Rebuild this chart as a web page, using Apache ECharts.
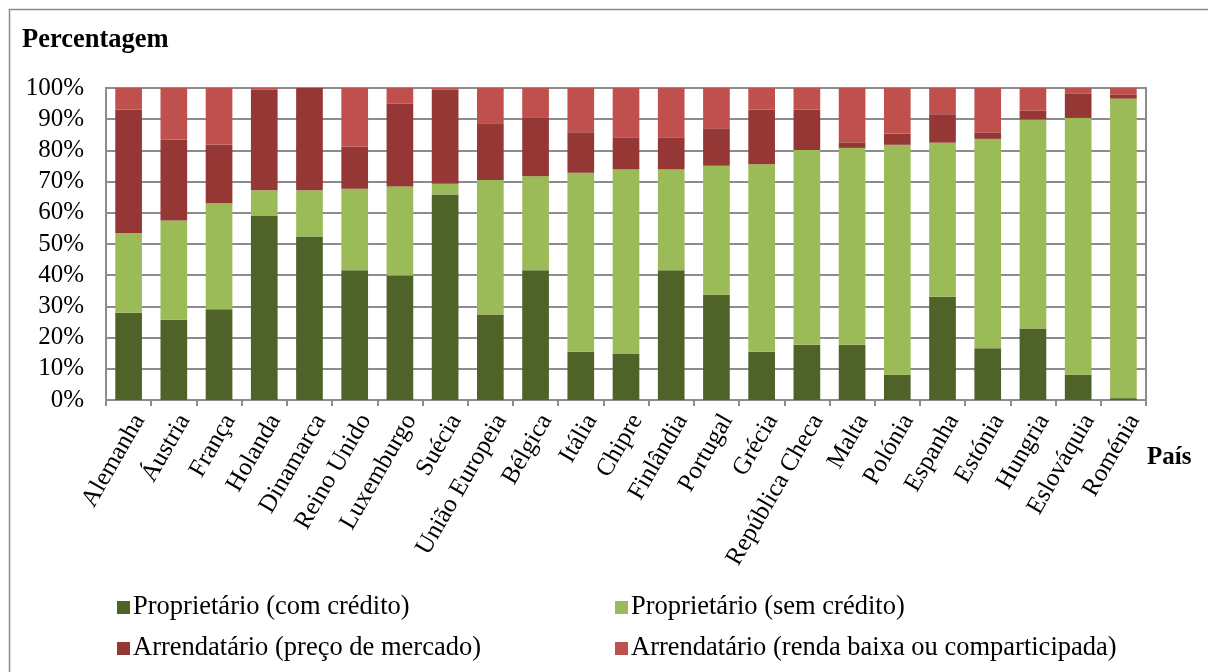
<!DOCTYPE html>
<html>
<head>
<meta charset="utf-8">
<script src="https://cdn.jsdelivr.net/npm/echarts@6/dist/echarts.min.js"></script>
<style>
  html, body { margin: 0; padding: 0; background: #fff; }
  #chart { width: 1208px; height: 672px; }
</style>
</head>
<body>
<div id="chart"></div>
<script>
// Regime de ocupação da habitação por país (% dos agregados)
const paises = ['Alemanha', 'Áustria', 'França', 'Holanda', 'Dinamarca', 'Reino Unido', 'Luxemburgo',
  'Suécia', 'União Europeia', 'Bélgica', 'Itália', 'Chipre', 'Finlândia', 'Portugal', 'Grécia',
  'República Checa', 'Malta', 'Polónia', 'Espanha', 'Estónia', 'Hungria', 'Eslováquia', 'Roménia'];

const comCredito = [28.0, 25.7, 29.1, 59.1, 52.4, 41.6, 39.9, 65.9, 27.4, 41.6, 15.5, 14.9,
  41.6, 33.7, 15.5, 17.7, 17.7, 8.1, 33.1, 16.6, 22.9, 8.1, 0.6];
const semCredito = [25.5, 31.8, 34.0, 8.1, 14.8, 26.1, 28.5, 3.4, 43.1, 30.1, 57.3, 59.1,
  32.4, 41.4, 60.1, 62.4, 63.1, 73.7, 49.4, 67.1, 67.0, 82.3, 96.0];
const precoMercado = [39.6, 26.0, 18.8, 32.3, 32.8, 13.5, 26.6, 30.2, 18.2, 18.7, 13.0, 10.2,
  10.2, 12.0, 17.5, 13.0, 1.8, 3.6, 9.1, 2.1, 2.8, 7.9, 1.2];
const rendaBaixa = [6.9, 16.5, 18.1, 0.5, 0.0, 18.8, 5.0, 0.5, 11.3, 9.6, 14.2, 15.8,
  15.8, 12.9, 6.9, 6.9, 17.4, 14.6, 8.4, 14.2, 7.3, 1.7, 2.2];

const nomes = ['Proprietário (com crédito)', 'Proprietário (sem crédito)',
  'Arrendatário (preço de mercado)', 'Arrendatário (renda baixa ou comparticipada)'];
const cores = ['#4F6228', '#9BBB59', '#953735', '#C0504D'];

const FONT = '"Liberation Serif", "Times New Roman", serif';
const GRID_COLOR = '#8c8c8c';

const chart = echarts.init(document.getElementById('chart'), null, { renderer: 'canvas' });

const serie = (i, valores) => ({
  name: nomes[i],
  type: 'bar',
  stack: 'total',
  barWidth: '59%',
  data: valores,
  itemStyle: { color: cores[i] },
  emphasis: { disabled: true }
});

const legenda = (itens, x) => ({
  data: itens,
  orient: 'vertical', left: x, top: 589,
  itemWidth: 13, itemHeight: 13, itemGap: 14,
  icon: 'rect', selectedMode: false,
  textStyle: { fontFamily: FONT, fontSize: 26.5, color: '#000', padding: [0, 0, 0, -2] }
});

chart.setOption({
  animation: false,
  backgroundColor: '#fff',
  textStyle: { fontFamily: FONT, color: '#000' },
  title: {
    text: 'Percentagem',
    left: 17, top: 22,
    textStyle: { fontFamily: FONT, fontSize: 26.5, fontWeight: 'bold', color: '#000' }
  },
  graphic: [
    {
      type: 'rect', silent: true, z: -1,
      shape: { x: 9.5, y: 9.5, width: 1300, height: 800 },
      style: { fill: 'none', stroke: '#8c8c8c', lineWidth: 1.5 }
    },
    {
      type: 'text', left: 1147, top: 445,
      style: { text: 'País', fontFamily: FONT, fontSize: 25, fontWeight: 'bold', fill: '#000' }
    }
  ],
  legend: [
    legenda([nomes[0], nomes[2]], 112),
    legenda([nomes[1], nomes[3]], 610)
  ],
  grid: {
    left: 106, right: 62, top: 88, bottom: 272,
    show: true, borderColor: GRID_COLOR, borderWidth: 2, backgroundColor: 'transparent'
  },
  xAxis: {
    type: 'category',
    data: paises,
    axisLine: { lineStyle: { color: GRID_COLOR, width: 2 } },
    axisTick: { show: true, interval: 0, length: 6, lineStyle: { color: GRID_COLOR, width: 2 } },
    axisLabel: {
      interval: 0, rotate: 60, margin: 10, verticalAlign: 'top',
      fontFamily: FONT, fontSize: 25, color: '#000'
    }
  },
  yAxis: {
    type: 'value',
    min: 0, max: 100, interval: 10,
    axisLine: { show: true, lineStyle: { color: GRID_COLOR, width: 2 } },
    axisTick: { show: false },
    splitLine: { lineStyle: { color: GRID_COLOR, width: 2 } },
    axisLabel: {
      formatter: '{value}%', margin: 22,
      fontFamily: FONT, fontSize: 25, color: '#000'
    }
  },
  series: [
    serie(0, comCredito),
    serie(1, semCredito),
    serie(2, precoMercado),
    serie(3, rendaBaixa)
  ]
});
</script>
</body>
</html>
